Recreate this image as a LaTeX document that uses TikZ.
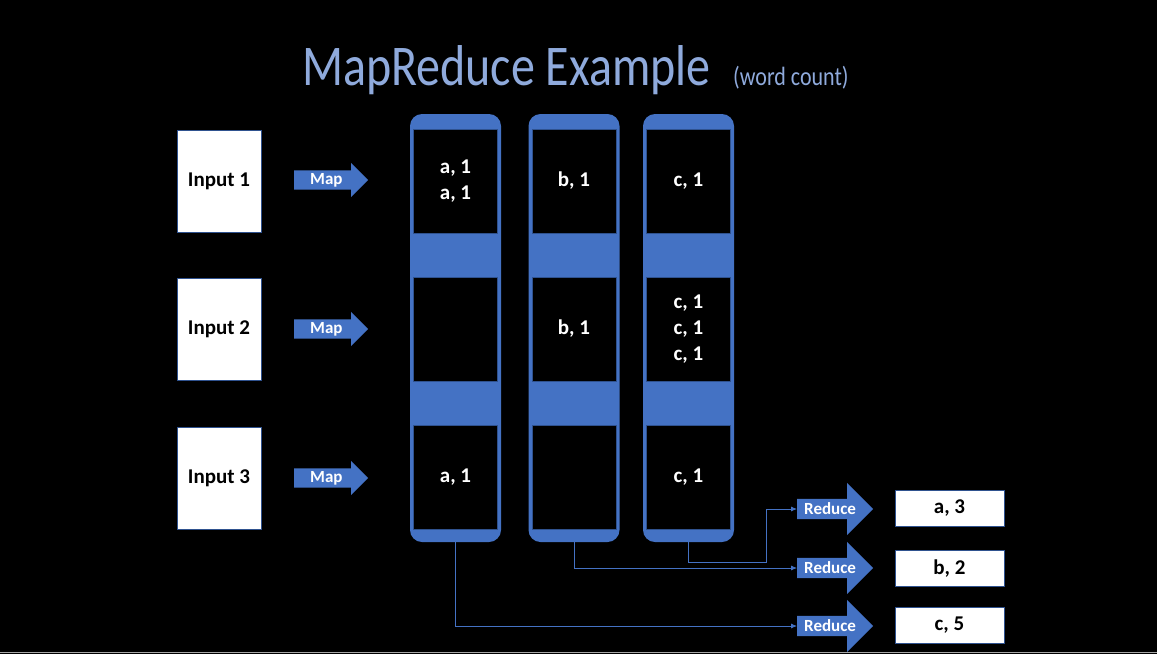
\documentclass[tikz,border=0pt]{standalone}
\usepackage{fontspec}
\setmainfont{Carlito}
\usetikzlibrary{shapes.arrows,arrows.meta}

\definecolor{office}{HTML}{4472C4}
\definecolor{officedark}{HTML}{2F528F}
\definecolor{titleblue}{HTML}{8FAADC}

\begin{document}
\begin{tikzpicture}[x=1pt, y=1pt,
input/.style={rectangle,draw=officedark,fill=white,line width=0.8pt,
  minimum width=84pt,minimum height=102pt,font=\bfseries\fontsize{21}{26}\selectfont},
output/.style={rectangle,draw=officedark,fill=white,line width=0.8pt,
  minimum width=109pt,minimum height=36pt,font=\bfseries\fontsize{21}{26}\selectfont},
maparrow/.style={single arrow,fill=office,single arrow head extend=7.5pt,
  single arrow head indent=0pt,minimum height=74pt,inner xsep=0pt,inner ysep=3pt,
  text height=11pt,text depth=2pt,text=white,anchor=tail,
  font=\bfseries\fontsize{17}{18}\selectfont},
redarrow/.style={maparrow,single arrow head extend=16pt,minimum height=76pt,
  text height=12pt},
column/.style={rectangle,rounded corners=12pt,fill=office,
  minimum width=91pt,minimum height=428pt},
cell/.style={rectangle,draw=officedark,fill=black,line width=0.6pt,
  minimum width=84pt,minimum height=104pt,text=white,align=center,
  font=\bfseries\fontsize{21}{26}\selectfont},
link/.style={draw=office,line width=0.75pt,-{Latex[length=6pt,width=5pt]}}
    ]
  \fill[black] (0,0) rectangle (1157,-654);
  \useasboundingbox (0,0) rectangle (1157,-654);

  % title
  \node[anchor=base west,inner sep=0pt,text=titleblue,yscale=1.2,transform shape,
    font=\fontsize{48}{56}\selectfont] (title) at (302,-85) {MapReduce Example};
  \node[anchor=base west,inner sep=0pt,text=titleblue,yscale=1.2,transform shape,
    font=\fontsize{22}{26}\selectfont] (subtitle) at ([xshift=22pt]title.base east) {(word count)};

  % inputs and map
  \node[input] (in1) at (219,-181) {Input 1};
  \node[input] (in2) at (219,-329) {Input 2};
  \node[input] (in3) at (219,-478) {Input 3};
  \node[maparrow] (map1) at (294,-180) {Map};
  \node[maparrow] (map2) at (294,-329) {Map};
  \node[maparrow] (map3) at (294,-478) {Map};

  % shuffle columns
  \node[column] (col1) at (455.5,-328) {};
  \node[column] (col2) at (574,-328) {};
  \node[column] (col3) at (688.5,-328) {};
  \node[cell] (c11) at (455.5,-181) {a, 1\\a, 1};
  \node[cell] (c12) at (455.5,-329) {};
  \node[cell] (c13) at (455.5,-477) {a, 1};
  \node[cell] (c21) at (574,-181) {b, 1};
  \node[cell] (c22) at (574,-329) {b, 1};
  \node[cell] (c23) at (574,-477) {};
  \node[cell] (c31) at (688.5,-181) {c, 1};
  \node[cell] (c32) at (688.5,-329) {c, 1\\c, 1\\c, 1};
  \node[cell] (c33) at (688.5,-477) {c, 1};

  % reduce
  \node[redarrow] (red1) at (797,-509) {Reduce};
  \node[redarrow] (red2) at (797,-568) {Reduce};
  \node[redarrow] (red3) at (797,-626) {Reduce};
  \node[output] (out1) at (949.5,-508) {a, 3};
  \node[output] (out2) at (949.5,-568.5) {b, 2};
  \node[output] (out3) at (949.5,-625.5) {c, 5};

  \coordinate (bend) at (766,-562);
  \draw[link] (col1.south) |- (red3.tail);
  \draw[link] (col2.south) |- (red2.tail);
  \draw[link] (col3.south) |- (bend) |- (red1.tail);

  \draw[gray!70,line width=1.5pt] (0,-652.5) -- (1157,-652.5);
\end{tikzpicture}
\end{document}
